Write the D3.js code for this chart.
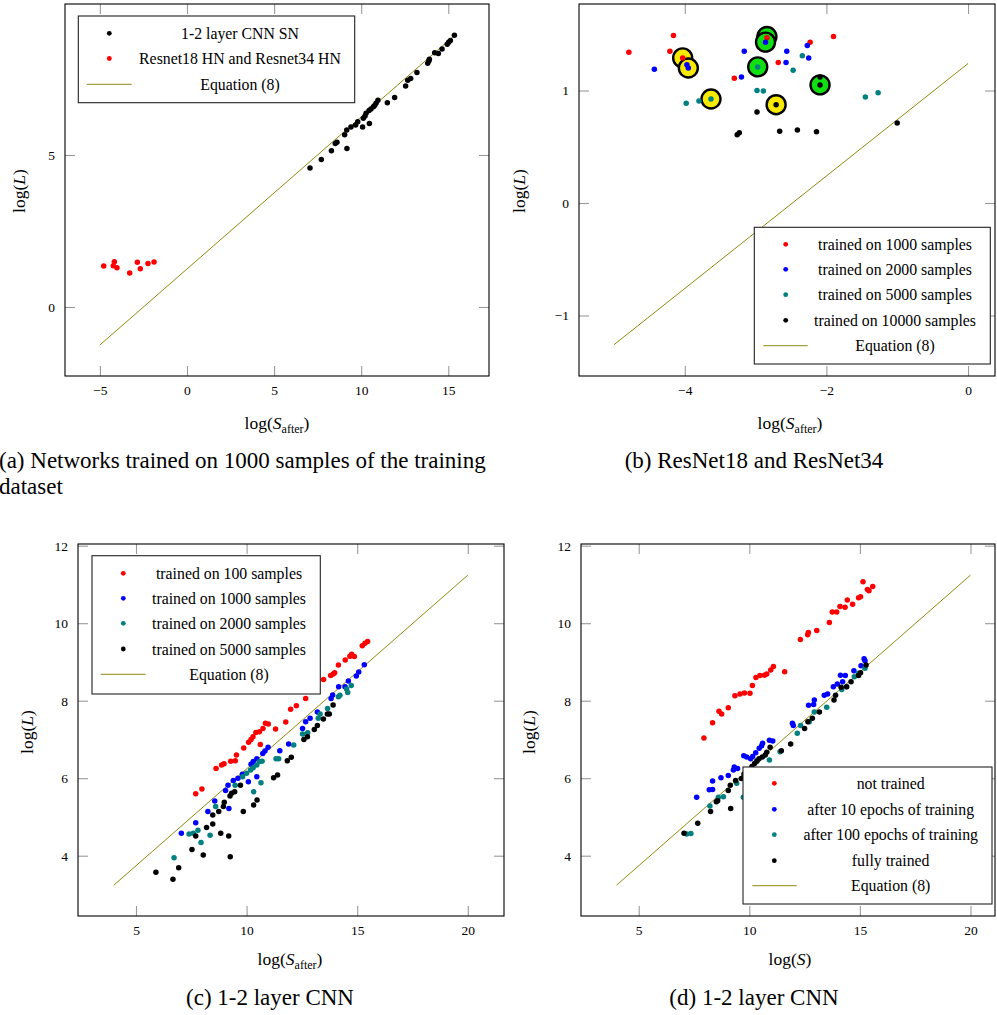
<!DOCTYPE html>
<html><head><meta charset="utf-8">
<script src="https://cdn.jsdelivr.net/npm/d3@7"></script>
<style>body{margin:0;background:#fff}svg{display:block}</style>
</head><body>
<svg id="fig" width="997" height="1015"></svg>
<script>
// ---------- DATA ----------
// Panel (a)
const aCnnSN = [[7.06,4.57],[7.71,4.85],[8.29,5.14],[8.51,5.38],[8.61,5.42],[9.18,5.21],[9.05,5.67],[9.17,5.82],[9.41,5.92],[9.68,5.99],[9.80,6.09],[10.08,5.92],[10.12,6.21],[10.22,6.28],[10.28,6.37],[10.45,6.46],[10.47,6.04],[10.56,6.51],[10.70,6.59],[10.77,6.63],[10.85,6.70],[10.96,6.80],[11.50,6.72],[11.92,6.89],[12.55,7.27],[12.67,7.46],[12.84,7.52],[13.20,7.71],[13.82,8.02],[13.89,8.10],[13.91,8.15],[14.22,8.36],[14.43,8.34],[14.64,8.49],[14.94,8.64],[15.02,8.71],[15.12,8.77],[15.35,8.94]];
const aResnetHN = [[-4.78,1.35],[-4.17,1.49],[-4.23,1.36],[-4.02,1.29],[-3.29,1.12],[-2.85,1.47],[-2.68,1.26],[-2.24,1.43],[-1.89,1.48]];
const aEquation = [[-5,-1.25],[15.35,8.93]];
const aNames = ["1-2 layer CNN SN","Resnet18 HN and Resnet34 HN","Equation (8)"];
const aXTicks = [-5,0,5,10,15];
const aYTicks = [0,5];

// Panel (b)
const b1000 = [[-4.79,1.34],[-4.16,1.49],[-4.21,1.35],[-4.03,1.29],[-3.30,1.11],[-2.84,1.47],[-2.68,1.25],[-2.23,1.43],[-1.90,1.48]];
const b2000 = [[-4.43,1.19],[-3.97,1.23],[-3.95,1.20],[-3.16,1.35],[-3.20,1.12],[-2.86,1.43],[-2.56,1.35],[-2.57,1.25],[-2.27,1.40],[-2.25,1.29]];
const b5000 = [[-3.98,0.886],[-3.80,0.907],[-3.63,0.924],[-2.97,1.21],[-2.98,1.00],[-2.89,0.996],[-2.47,1.18],[-2.34,1.31],[-1.45,0.942],[-1.27,0.981]];
const b10000 = [[-3.26,0.607],[-3.23,0.625],[-2.98,0.809],[-2.71,0.874],[-2.66,0.637],[-2.41,0.649],[-2.14,0.634],[-2.09,1.12],[-2.09,1.05],[-1.00,0.711]];
const bYellowMarks = [[-4.03,1.29],[-3.95,1.20],[-3.63,0.924],[-2.71,0.874]];
const bGreenMarks = [[-2.84,1.48],[-2.86,1.43],[-2.97,1.21],[-2.09,1.05]];
const bEquation = [[-5,-1.26],[0,1.24]];
const bNames = ["trained on 1000 samples","trained on 2000 samples","trained on 5000 samples","trained on 10000 samples","Equation (8)"];
const bXTicks = [-4,-2,0];
const bYTicks = [-1,0,1];

// Panel (c)
const c100 = [[7.70,5.60],[7.98,5.72],[8.62,6.25],[8.87,6.34],[8.98,6.37],[9.28,6.44],[9.49,6.45],[9.54,6.60],[9.87,6.78],[10.09,6.93],[10.20,7.00],[10.29,7.07],[10.42,7.18],[10.58,7.20],[10.74,7.28],[10.85,7.42],[10.98,7.40],[10.62,6.87],[11.31,7.27],[11.77,7.45],[11.99,7.78],[12.25,7.87],[12.67,8.06],[13.18,8.41],[13.48,8.55],[13.80,8.65],[13.92,8.69],[13.98,8.72],[14.15,8.92],[14.46,9.05],[14.67,9.15],[14.75,9.20],[14.87,9.14],[15.23,9.42],[15.35,9.48],[15.47,9.53]];
const c1000 = [[7.05,4.58],[7.70,4.85],[8.25,5.14],[8.56,5.41],[9.05,5.68],[9.16,5.82],[9.20,5.22],[9.40,5.94],[9.61,6.00],[9.81,6.10],[10.08,5.91],[10.20,6.36],[10.30,6.43],[10.46,6.50],[10.46,6.04],[10.73,6.64],[10.83,6.70],[10.97,6.80],[11.50,6.71],[11.90,6.88],[12.53,7.28],[12.67,7.46],[12.87,7.55],[13.20,7.71],[13.82,8.06],[13.89,8.15],[14.16,8.36],[14.45,8.36],[14.60,8.51],[14.96,8.64],[15.07,8.74],[15.32,8.93]];
const c2000 = [[6.72,3.95],[7.40,4.56],[7.59,4.58],[7.80,4.66],[7.94,4.34],[8.35,4.53],[8.60,5.27],[9.48,5.82],[9.82,6.04],[10.00,6.13],[10.18,6.21],[10.30,6.27],[10.46,6.34],[10.58,6.43],[10.70,6.44],[10.32,5.65],[10.65,5.88],[11.33,6.50],[11.45,6.50],[12.13,6.86],[12.53,7.14],[12.76,7.17],[13.24,7.55],[13.32,7.66],[13.66,7.80],[14.15,8.10],[14.22,8.14],[14.52,8.30],[14.57,8.21],[14.73,8.39]];
const c5000 = [[5.90,3.57],[6.67,3.39],[6.93,3.69],[7.53,4.16],[7.70,4.51],[8.04,4.02],[8.19,4.73],[8.47,4.82],[8.47,5.05],[8.74,5.14],[8.83,4.58],[8.95,5.27],[8.99,5.38],[9.19,4.51],[9.26,3.97],[9.25,5.54],[9.32,5.61],[9.46,5.65],[9.72,5.82],[9.85,5.14],[10.32,5.31],[10.47,5.44],[11.22,6.01],[11.40,6.08],[11.84,6.45],[12.02,6.54],[12.59,7.00],[12.75,7.07],[13.06,7.26],[13.20,7.36],[13.47,7.53],[13.65,7.66],[13.74,7.66],[13.91,7.89]];
const cEquation = [[4,3.24],[20,11.24]];
const cNames = ["trained on 100 samples","trained on 1000 samples","trained on 2000 samples","trained on 5000 samples","Equation (8)"];

// Panel (d)
const dNotTrained = [[7.95,7.04],[8.34,7.43],[8.63,7.73],[8.75,7.66],[9.05,7.82],[9.35,8.13],[9.58,8.17],[9.78,8.20],[10.03,8.19],[10.14,8.39],[10.30,8.60],[10.48,8.65],[10.68,8.66],[10.79,8.69],[10.97,8.79],[11.09,8.88],[11.60,8.75],[12.31,9.58],[12.64,9.70],[12.67,9.76],[13.05,9.81],[13.62,10.02],[13.75,10.29],[13.95,10.29],[14.10,10.43],[14.33,10.41],[14.43,10.60],[14.67,10.49],[14.94,10.66],[15.03,10.68],[15.14,11.07],[15.34,10.87],[15.41,10.84],[15.58,10.95]];
const d10Epochs = [[7.62,5.51],[8.19,5.70],[8.34,5.71],[8.34,5.93],[8.72,6.01],[9.05,6.07],[9.28,6.21],[9.32,6.29],[9.47,6.25],[9.75,6.58],[9.88,6.55],[10.06,6.50],[10.15,6.56],[10.29,6.66],[10.45,6.77],[10.56,6.84],[10.60,6.90],[10.91,6.98],[11.06,6.96],[11.95,7.42],[11.99,7.36],[12.68,7.88],[12.91,7.90],[12.94,8.02],[13.39,8.14],[13.54,8.17],[13.80,8.36],[13.98,8.43],[14.12,8.66],[14.34,8.65],[14.22,8.49],[14.73,8.77],[15.05,8.90],[15.19,9.08],[15.23,9.03]];
const d100Epochs = [[7.17,4.56],[7.36,4.57],[8.22,5.28],[8.60,5.51],[8.83,5.52],[9.73,5.51],[10.03,5.70],[9.43,5.87],[10.33,6.43],[10.91,6.47],[11.39,6.68],[12.17,7.16],[12.32,7.36],[12.71,7.46],[12.94,7.71],[13.50,7.83],[14.18,8.29],[14.40,8.36],[14.75,8.62],[14.93,8.71],[15.23,8.84]];
const dFully = [[7.05,4.58],[7.67,4.84],[8.25,5.14],[8.51,5.39],[8.57,5.42],[9.05,5.68],[9.16,5.22],[9.14,5.82],[9.38,5.94],[9.64,5.99],[9.76,6.11],[10.06,5.91],[10.03,6.21],[10.12,6.30],[10.24,6.38],[10.35,6.45],[10.44,6.50],[10.42,6.04],[10.59,6.55],[10.72,6.60],[10.79,6.67],[10.94,6.80],[11.45,6.71],[11.87,6.88],[12.50,7.28],[12.65,7.46],[12.85,7.55],[13.17,7.71],[13.83,8.02],[13.90,8.14],[14.15,8.35],[14.40,8.36],[14.60,8.49],[14.94,8.65],[15.03,8.72],[15.28,8.92]];
const dEquation = [[4,3.24],[20,11.24]];
const dNames = ["not trained","after 10 epochs of training","after 100 epochs of training","fully trained","Equation (8)"];
const cdXTicks = [5,10,15,20];
const cdYTicks = [4,6,8,10,12];

const captions = [
  {lines:["(a) Networks trained on 1000 samples of the training","dataset"], x:-1, y:468, anchor:"start"},
  {lines:["(b) ResNet18 and ResNet34"], x:754, y:468, anchor:"middle"},
  {lines:["(c) 1-2 layer CNN"], x:270, y:1005, anchor:"middle"},
  {lines:["(d) 1-2 layer CNN"], x:754, y:1005, anchor:"middle"}
];

// ---------- STYLE ----------
const SERIF = "'Liberation Serif','Times New Roman',serif";
const RED="#ff0000", BLUE="#0000ff", TEAL="#008080", BLACK="#000000", OLIVE="#8f8a12";
const svg = d3.select("#fig");
const fmt = d3.format("d");

function panel(cfg){
  const g = svg.append("g");
  const x = d3.scaleLinear().domain(cfg.xDomain).range([cfg.left, cfg.right]);
  const y = d3.scaleLinear().domain(cfg.yDomain).range([cfg.bottom, cfg.top]);
  const T = 10;
  const styleAxis = sel => {
    sel.select(".domain").remove();
    sel.selectAll(".tick line").attr("stroke","#9a9a9a").attr("stroke-width",1.1);
    sel.selectAll(".tick text").style("font-family",SERIF).style("font-size","13.5px").attr("fill","#000");
  };
  g.append("g").attr("transform",`translate(0,${cfg.bottom})`)
    .call(d3.axisBottom(x).tickValues(cfg.xTicks).tickFormat(fmt).tickSizeInner(-T).tickSizeOuter(0).tickPadding(9)).call(styleAxis);
  g.append("g").attr("transform",`translate(0,${cfg.top})`)
    .call(d3.axisTop(x).tickValues(cfg.xTicks).tickSizeInner(-T).tickSizeOuter(0).tickFormat("")).call(styleAxis);
  g.append("g").attr("transform",`translate(${cfg.left},0)`)
    .call(d3.axisLeft(y).tickValues(cfg.yTicks).tickFormat(fmt).tickSizeInner(-T).tickSizeOuter(0).tickPadding(10)).call(styleAxis);
  g.append("g").attr("transform",`translate(${cfg.right},0)`)
    .call(d3.axisRight(y).tickValues(cfg.yTicks).tickSizeInner(-T).tickSizeOuter(0).tickFormat("")).call(styleAxis);

  // equation line
  g.append("path").datum(cfg.eq)
    .attr("d", d3.line().x(d=>x(d[0])).y(d=>y(d[1])))
    .attr("fill","none").attr("stroke",OLIVE).attr("stroke-width",1);

  // highlight circles
  (cfg.marks||[]).forEach(m=>{
    g.append("g").selectAll("circle").data(m.data).join("circle")
      .attr("cx",d=>x(d[0])).attr("cy",d=>y(d[1])).attr("r",9.5)
      .attr("fill",m.color).attr("stroke","#000").attr("stroke-width",2.4);
  });

  // points
  cfg.series.forEach(s=>{
    g.append("g").selectAll("circle").data(s.data).join("circle")
      .attr("cx",d=>x(d[0])).attr("cy",d=>y(d[1])).attr("r",2.75).attr("fill",s.color);
  });

  // frame
  g.append("rect").attr("x",cfg.left).attr("y",cfg.top)
    .attr("width",cfg.right-cfg.left).attr("height",cfg.bottom-cfg.top)
    .attr("fill","none").attr("stroke","#000").attr("stroke-width",1.1);

  // legend
  const L = cfg.legend;
  const lg = g.append("g");
  lg.append("rect").attr("x",L.x0).attr("y",L.y0).attr("width",L.x1-L.x0).attr("height",L.y1-L.y0)
    .attr("fill","#fff").attr("stroke","#222").attr("stroke-width",1.1);
  cfg.names.forEach((n,i)=>{
    const yy = L.rows[i];
    if(i < cfg.series.length){
      lg.append("circle").attr("cx",L.mx).attr("cy",yy).attr("r",2.4).attr("fill",cfg.series[i].color);
    } else {
      lg.append("line").attr("x1",L.lx0).attr("x2",L.lx1).attr("y1",yy).attr("y2",yy)
        .attr("stroke",OLIVE).attr("stroke-width",1);
    }
    lg.append("text").attr("x",L.tx).attr("y",yy).attr("dy","0.35em").attr("text-anchor","middle")
      .style("font-family",SERIF).style("font-size","15.8px").text(n);
  });

  // axis labels
  const xl = g.append("text").attr("x",cfg.xlx).attr("y",cfg.xly).attr("text-anchor","middle")
    .style("font-family",SERIF).style("font-size","17.5px");
  xl.append("tspan").text("log(");
  xl.append("tspan").style("font-style","italic").text("S");
  if(cfg.sub){ xl.append("tspan").style("font-size","12px").attr("dy",3.5).text(cfg.sub);
    xl.append("tspan").attr("dy",-3.5).text(")"); }
  else xl.append("tspan").text(")");
  const yl = g.append("text").attr("transform",`translate(${cfg.ylx},${cfg.yly}) rotate(-90)`)
    .attr("text-anchor","middle").style("font-family",SERIF).style("font-size","17.5px");
  yl.append("tspan").text("log(");
  yl.append("tspan").style("font-style","italic").text("L");
  yl.append("tspan").text(")");
}

panel({left:65,right:489,top:4,bottom:376,xDomain:[-7.003,17.336],yDomain:[-2.270,9.967],
  xTicks:aXTicks,yTicks:aYTicks,eq:aEquation,
  series:[{data:aCnnSN,color:BLACK},{data:aResnetHN,color:RED}],names:aNames,
  legend:{x0:78.3,x1:354.7,y0:16,y1:102.7,rows:[33.3,58.5,84.3],mx:109.3,lx0:86.7,lx1:131.7,tx:240},
  xlx:277,xly:429,sub:"after",ylx:25,yly:191});

panel({left:579,right:995,top:4,bottom:376,xDomain:[-5.494,0.381],yDomain:[-1.538,1.769],
  xTicks:bXTicks,yTicks:bYTicks,eq:bEquation,
  marks:[{data:bYellowMarks,color:"#f7ea00"},{data:bGreenMarks,color:"#10e010"}],
  series:[{data:b1000,color:RED},{data:b2000,color:BLUE},{data:b5000,color:TEAL},{data:b10000,color:BLACK}],names:bNames,
  legend:{x0:754.3,x1:990.3,y0:227.3,y1:364,rows:[244.3,269.3,294.7,320.3,345.7],mx:785.7,lx0:763.3,lx1:807.7,tx:895},
  xlx:790,xly:429,sub:"after",ylx:525,yly:191});

panel({left:78,right:504,top:544,bottom:916,xDomain:[2.378,21.636],yDomain:[2.444,12.044],
  xTicks:cdXTicks,yTicks:cdYTicks,eq:cEquation,
  series:[{data:c100,color:RED},{data:c1000,color:BLUE},{data:c2000,color:TEAL},{data:c5000,color:BLACK}],names:cNames,
  legend:{x0:92,x1:320.3,y0:555.7,y1:694,rows:[573.3,598.3,623.3,649,674.3],mx:123.3,lx0:100.7,lx1:145.7,tx:229},
  xlx:290,xly:965,sub:"after",ylx:33,yly:732});

panel({left:581,right:995,top:544,bottom:916,xDomain:[2.392,21.108],yDomain:[2.444,12.044],
  xTicks:cdXTicks,yTicks:cdYTicks,eq:dEquation,
  series:[{data:dNotTrained,color:RED},{data:d10Epochs,color:BLUE},{data:d100Epochs,color:TEAL},{data:dFully,color:BLACK}],names:dNames,
  legend:{x0:743,x1:992,y0:767,y1:904,rows:[783.3,809.3,834.7,860.7,885.7],mx:774.3,lx0:752.3,lx1:796.7,tx:890.7},
  xlx:790,xly:965,sub:null,ylx:535,yly:732});

captions.forEach(c=>{
  const t = svg.append("text").attr("x",c.x).attr("y",c.y).attr("text-anchor",c.anchor)
    .style("font-family",SERIF).style("font-size","23px");
  c.lines.forEach((ln,i)=>t.append("tspan").attr("x",c.x).attr("dy",i?26:0).text(ln));
});
</script>
</body></html>
